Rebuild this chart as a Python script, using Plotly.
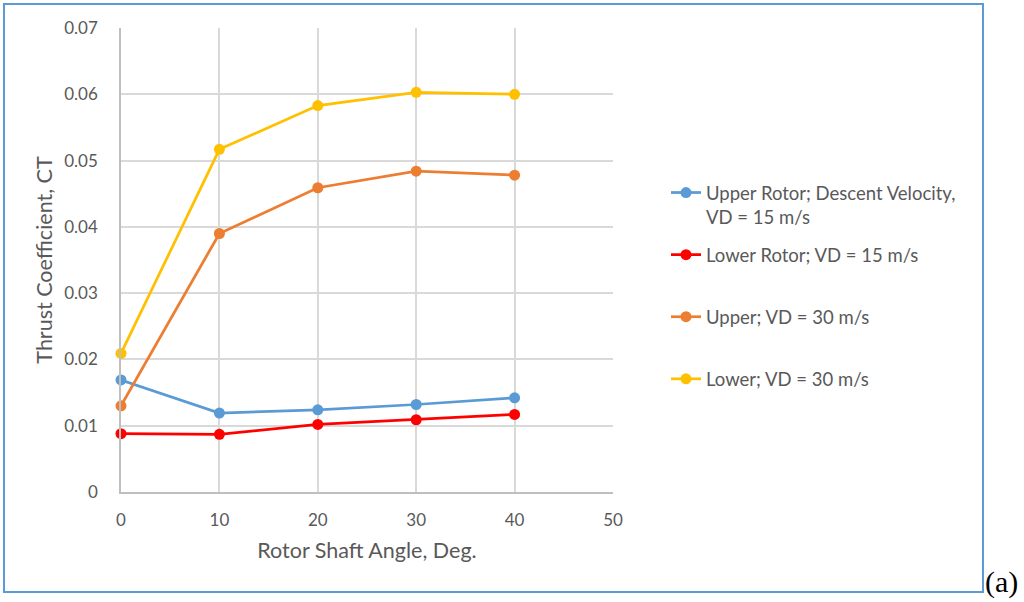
import plotly.graph_objects as go

angles = [0, 10, 20, 30, 40]
upper_15 = [0.0169, 0.0119, 0.0124, 0.0132, 0.0142]
lower_15 = [0.0088, 0.0087, 0.0102, 0.0109, 0.0117]
upper_30 = [0.0130, 0.0390, 0.0459, 0.0484, 0.0478]
lower_30 = [0.0209, 0.0517, 0.0583, 0.0603, 0.0600]

series_names = [
    "Upper Rotor; Descent Velocity,<br>VD = 15 m/s",
    "Lower Rotor; VD = 15 m/s<br> ",
    "Upper; VD = 30 m/s<br> ",
    "Lower; VD = 30 m/s<br> ",
]
series_values = [upper_15, lower_15, upper_30, lower_30]
series_colors = ["#5B9BD5", "#FF0000", "#ED7D31", "#FFC000"]

y_tickvals = [0, 0.01, 0.02, 0.03, 0.04, 0.05, 0.06, 0.07]
y_ticktext = ["0", "0.01", "0.02", "0.03", "0.04", "0.05", "0.06", "0.07"]
x_tickvals = [0, 10, 20, 30, 40, 50]

FONT = "Lato"
GRAY = "#595959"

fig = go.Figure()
for i, (name, vals, col) in enumerate(zip(series_names, series_values, series_colors)):
    fig.add_trace(go.Scatter(
        x=angles, y=vals, name=name, mode="lines+markers",
        line=dict(color=col, width=2.75),
        marker=dict(color=col, size=11),
        legendgroup=f"g{i}",
        cliponaxis=False,
    ))

L, R, T, B = 121, 613, 28, 492
W, H = 1024, 602
pw, ph = R - L, B - T

def px_x(p):
    return (p - L) / pw

def px_y(p):
    return (B - p) / ph

fig.update_layout(
    width=W, height=H,
    margin=dict(l=L, r=W - R, t=T, b=H - B),
    paper_bgcolor="white", plot_bgcolor="white",
    font=dict(family=FONT, color=GRAY, size=17),
    showlegend=True,
    legend=dict(
        x=px_x(666), y=px_y(174), xanchor="left", yanchor="top",
        font=dict(family=FONT, size=18.5, color=GRAY),
        tracegroupgap=11,
        valign="top",
        bgcolor="rgba(0,0,0,0)",
    ),
    xaxis=dict(
        range=[0, 50], tickvals=x_tickvals, showgrid=True,
        gridcolor="#D9D9D9", gridwidth=1.5, zeroline=False,
        showline=True, linecolor="#BFBFBF", linewidth=1.5,
        ticks="", ticklabelstandoff=12,
        tickfont=dict(family=FONT, size=17, color=GRAY),
        title=dict(text="Rotor Shaft Angle, Deg.", font=dict(family=FONT, size=21.5, color=GRAY), standoff=14),
    ),
    yaxis=dict(
        range=[0, 0.07], tickvals=y_tickvals, ticktext=y_ticktext, showgrid=True,
        gridcolor="#D9D9D9", gridwidth=1.5, zeroline=False,
        showline=True, linecolor="#BFBFBF", linewidth=1.5,
        ticks="", ticklabelstandoff=18,
        tickfont=dict(family=FONT, size=17, color=GRAY),
        title=dict(text="Thrust Coefficient, CT", font=dict(family=FONT, size=21.5, color=GRAY), standoff=6),
    ),
    shapes=[dict(
        type="rect", xref="paper", yref="paper",
        x0=px_x(4), x1=px_x(983), y0=px_y(592), y1=px_y(4),
        line=dict(color="#5B9BD5", width=2), fillcolor="rgba(0,0,0,0)", layer="below",
    )],
    annotations=[dict(
        text="(a)", xref="paper", yref="paper",
        x=px_x(983), y=px_y(582), xanchor="left", yanchor="middle",
        showarrow=False, font=dict(family="Liberation Serif", size=30, color="black"),
    )],
)

fig.write_html(
    "out.html",
    config={"displayModeBar": False},
    post_script="document.body.style.margin='0px';document.body.style.overflow='hidden';",
)
